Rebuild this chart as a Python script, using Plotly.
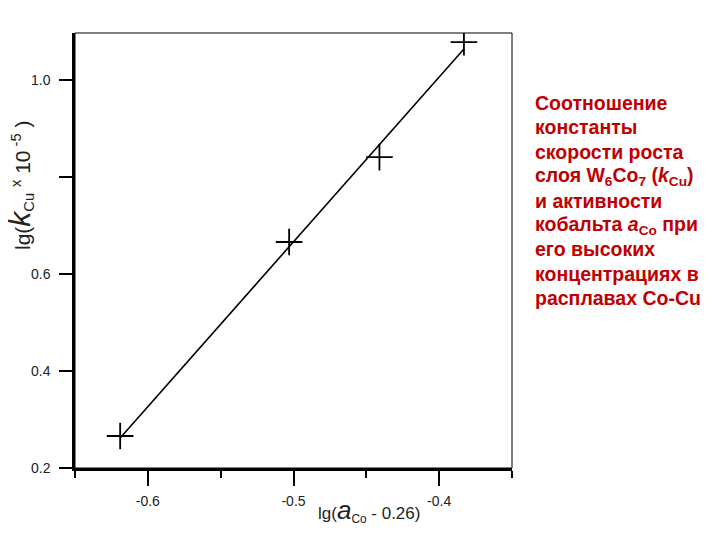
import plotly.graph_objects as go

# measured points
x_pts = [-0.619, -0.503, -0.441, -0.383]
y_pts = [0.266, 0.666, 0.841, 1.078]

# straight line drawn through them (ends)
line_x = [-0.619, -0.383]
line_y = [0.262, 1.064]

x_major = [-0.6, -0.5, -0.4]
x_major_text = ["-0.6", "-0.5", "-0.4"]
x_minor = [-0.65, -0.55, -0.45, -0.35]
y_ticks = [0.2, 0.4, 0.6, 0.8, 1.0]
y_ticks_text = ["0.2", "0.4", "0.6", "", "1.0"]

caption = [
    "Соотношение",
    "константы",
    "скорости роста",
    "слоя W<sub>6</sub>Co<sub>7</sub> (<i>k</i><sub>Cu</sub>)",
    "и активности",
    "кобальта <i>a</i><sub>Co</sub> при",
    "его высоких",
    "концентрациях в",
    "расплавах Co-Cu",
]

FONT = "Liberation Sans, Arial, sans-serif"

fig = go.Figure()

fig.add_trace(go.Scatter(
    x=line_x, y=line_y, mode="lines",
    line=dict(color="black", width=1.6),
    showlegend=False, hoverinfo="skip",
))
fig.add_trace(go.Scatter(
    x=x_pts, y=y_pts, mode="markers",
    marker=dict(symbol="cross-thin", size=19, line=dict(color="black", width=1.8)),
    showlegend=False,
))

# thin outer frame
fig.add_shape(type="rect", xref="paper", yref="paper", x0=0, y0=0, x1=1, y1=1,
              line=dict(color="black", width=1))

fig.update_xaxes(
    range=[-0.65, -0.35],
    tickmode="array", tickvals=x_major, ticktext=x_major_text,
    ticks="outside", ticklen=15, tickwidth=2, tickcolor="black",
    minor=dict(tickmode="array", tickvals=x_minor, ticks="outside", ticklen=7,
               tickwidth=2, tickcolor="black"),
    showline=True, linecolor="black", linewidth=2.5,
    showgrid=False, zeroline=False,
    tickfont=dict(family=FONT, size=14, color="#222"),
    ticklabelstandoff=3,
)
fig.update_yaxes(
    range=[0.2, 1.097],
    tickmode="array", tickvals=y_ticks, ticktext=y_ticks_text,
    ticks="outside", ticklen=13, tickwidth=2, tickcolor="black",
    showline=True, linecolor="black", linewidth=2.5,
    showgrid=False, zeroline=False,
    tickfont=dict(family=FONT, size=14, color="#222"),
    ticklabelstandoff=6,
)

# axis titles as annotations
fig.add_annotation(
    xref="paper", yref="paper", x=(316 - 75) / 437, y=(468 - 510) / 435,
    xanchor="left", yanchor="middle",
    text="lg(<span style='font-size:26px'><i>a</i></span><sub>Co</sub> - 0.26)",
    showarrow=False, font=dict(family=FONT, size=17, color="#222"),
)
fig.add_annotation(
    xref="paper", yref="paper", x=(20 - 75) / 437, y=(468 - 185) / 435,
    xanchor="center", yanchor="middle",
    textangle=-90,
    text="lg(<span style='font-size:30px'><i>k</i></span><sub>Cu</sub> <sup>x</sup> 10<sup> -5</sup> )",
    showarrow=False, font=dict(family=FONT, size=21, color="#222"),
)

# red caption on the right
for i, line in enumerate(caption):
    py = 103 + i * 24.4
    fig.add_annotation(
        xref="paper", yref="paper",
        x=(533 - 75) / 437, y=(468 - py) / 435,
        xanchor="left", yanchor="middle",
        text="<b>" + line + "</b>", showarrow=False,
        font=dict(family=FONT, size=19.5, color="#C00000"),
    )

# page body adds an 8px offset, so the figure is a bit smaller than the window
fig.update_layout(
    width=712, height=532,
    margin=dict(l=67, r=208, t=25, b=72),
    paper_bgcolor="white", plot_bgcolor="white",
)

fig.write_html("out.html")
